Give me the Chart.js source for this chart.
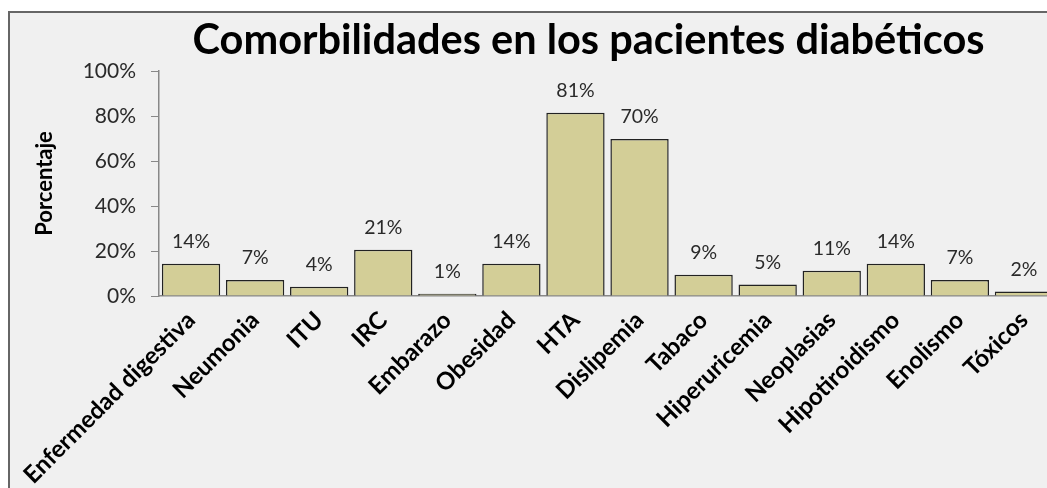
<!DOCTYPE html>
<html>
<head>
<meta charset="utf-8">
<title>Comorbilidades</title>
<script src="https://cdn.jsdelivr.net/npm/chart.js"></script>
<style>
html, body { margin: 0; padding: 0; background: #fff; overflow: hidden; }
#box { position: absolute; left: 8px; top: 11px; width: 1200px; height: 560px;
       border-left: 2px solid #666; border-top: 2px solid #666; background: #f0f0f0; }
#wrap { position: absolute; left: 0; top: 0; width: 1157px; height: 540px; }
</style>
</head>
<body>
<div id="box"><div id="wrap"><canvas id="myChart"></canvas></div></div>
<script>
var chartTitle = "Comorbilidades en los pacientes diabéticos";
var categories = ["Enfermedad digestiva", "Neumonia", "ITU", "IRC", "Embarazo", "Obesidad", "HTA",
  "Dislipemia", "Tabaco", "Hiperuricemia", "Neoplasias", "Hipotiroidismo", "Enolismo", "Tóxicos"];
var percentValues = [14.3, 7.1, 4.1, 20.6, 1.0, 14.3, 81.4, 69.8, 9.4, 5.1, 11.2, 14.3, 7.1, 2.0];
var yTickValues = [0, 20, 40, 60, 80, 100];

var font = "Lato";

// titulo centrado sobre todo el lienzo (no sobre el area recortada)
var centeredTitle = {
  id: "centeredTitle",
  afterDraw: function (chart) {
    var ctx = chart.ctx;
    ctx.save();
    ctx.font = "bold 41.5px " + font;
    ctx.fillStyle = "#000";
    ctx.textAlign = "center";
    ctx.textBaseline = "alphabetic";
    ctx.fillText(chartTitle, chart.width / 2, 41);
    ctx.restore();
  }
};

// etiquetas de porcentaje encima de cada barra
var valueLabels = {
  id: "valueLabels",
  afterDatasetsDraw: function (chart) {
    var ctx = chart.ctx;
    var meta = chart.getDatasetMeta(0);
    ctx.save();
    ctx.font = "19.5px " + font;
    ctx.fillStyle = "#2a2a2a";
    ctx.textAlign = "center";
    ctx.textBaseline = "alphabetic";
    meta.data.forEach(function (bar, i) {
      ctx.fillText(Math.round(percentValues[i]) + "%", bar.x, bar.y - 16);
    });
    ctx.restore();
  }
};

new Chart("myChart", {
  type: "bar",
  data: {
    labels: categories,
    datasets: [{
      data: percentValues,
      backgroundColor: "#d3ce97",
      borderColor: "#222",
      borderWidth: 1.5,
      categoryPercentage: 1,
      barPercentage: 0.91
    }]
  },
  options: {
    responsive: true,
    maintainAspectRatio: false,
    animation: false,
    layout: { padding: { left: 0, right: 111, top: 58, bottom: 0 } },
    plugins: {
      legend: { display: false },
      tooltip: { enabled: false },
      title: { display: false }
    },
    scales: {
      x: {
        grid: { display: false },
        border: { color: "#888", width: 1.5 },
        ticks: {
          autoSkip: false,
          maxRotation: 45,
          minRotation: 45,
          padding: 2,
          color: "#000",
          font: { family: font, size: 24, weight: "bold" }
        },
        afterFit: function (s) { s.height = 257; }
      },
      y: {
        min: 0,
        max: 100,
        afterBuildTicks: function (s) {
          s.ticks = yTickValues.map(function (v) { return { value: v }; });
        },
        grid: { drawOnChartArea: false, drawTicks: true, tickLength: 8, color: "#888" },
        border: { color: "#888", width: 1.5 },
        ticks: {
          padding: 15,
          color: "#2a2a2a",
          font: { family: font, size: 21 },
          callback: function (v) { return v + "%"; }
        },
        title: {
          display: true,
          text: "Porcentaje",
          color: "#000",
          font: { family: font, size: 22, weight: "bold" },
          padding: { top: 22, bottom: 0 }
        },
        afterFit: function (s) { s.width = 149; }
      }
    }
  },
  plugins: [valueLabels, centeredTitle]
});
</script>
</body>
</html>
